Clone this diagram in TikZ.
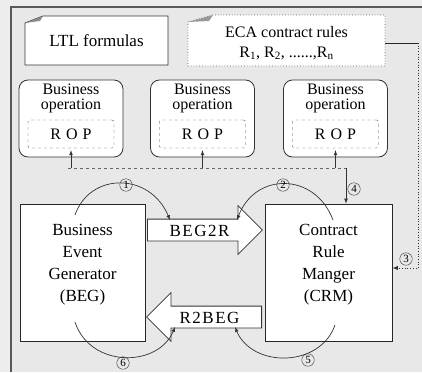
\documentclass[tikz,border=0pt]{standalone}
\usepackage{fontspec}
\setmainfont{Liberation Serif}
\usetikzlibrary{shapes.arrows}

\begin{document}
\begin{tikzpicture}[x=1pt,y=-1pt,>=latex,
  every node/.style={font=\fontsize{17}{22}\selectfont, align=center},
  frame/.style={draw=black!65, line width=1.4pt},
  note/.style={draw=black!80, fill=white, line width=0.8pt},
  opbox/.style={draw=black!80, fill=white, rounded corners=9pt, minimum width=104pt, minimum height=77pt, line width=0.8pt},
  optext/.style={font=\fontsize{16}{15}\selectfont, inner sep=0pt},
  ropbox/.style={draw=black!70, dashed, fill=white, rounded corners=2pt, minimum width=86pt, minimum height=28pt, font=\fontsize{16}{18}\selectfont},
  bigbox/.style={draw=black!85, fill=white, minimum width=125pt, minimum height=137pt, line width=0.8pt},
  blockarrow/.style={single arrow, draw=black!80, fill=white, line width=0.8pt, single arrow head extend=13.5pt, single arrow head indent=0pt, minimum height=115pt, text height=12pt, text depth=0pt, inner ysep=4.5pt, inner xsep=2pt},
  num/.style={circle, draw=black!80, inner sep=0pt, minimum size=12.5pt, font=\fontsize{11}{11}\selectfont},
  flow/.style={->, draw=black!80, line width=0.7pt},
  bus/.style={draw=black!60, dashed, line width=1pt}
]
\useasboundingbox (0,0) rectangle (422,372);
\fill[black!7] (0,0) rectangle (422,372);
\fill[black!9] (11,7) rectangle (422,372);
\draw[frame] (11,372) -- (11,7) -- (422,7);

% notes on top
\draw[note] (25,23) -- (43,16) -- (168,16) -- (168,65) -- (25,65) -- cycle;
\fill[black!45] (25,23) -- (43,16) -- (40,21) -- cycle;
\node (ltl) at (96.5,41) {LTL formulas};
\draw[note, draw=black!60, dotted] (188,22) -- (213,15) -- (385,15) -- (385,66) -- (188,66) -- cycle;
\fill[black!40] (188,22) -- (213,15) -- (209,21) -- cycle;
\node[font=\fontsize{16}{20}\selectfont] (eca) at (286.5,43) {ECA contract rules\\R\textsubscript{1}, R\textsubscript{2}, ......,R\textsubscript{n}};
\coordinate (ecaright) at (385,43);

% business operations
\foreach \i/\x in {1/71,2/202.5,3/335.5}{
  \node[opbox] (op\i) at (\x,118.5) {};
  \node[optext] (optext\i) at (\x,98) {Business\\operation};
  \node[ropbox] (rop\i) at (\x,134) {R\kern5pt O\kern5pt P};
}

% main boxes
\node[bigbox] (beg) at (82.5,272.5) {};
\node (begtext) at (82.5,265) {Business\\Event\\Generator\\(BEG)};
\node[bigbox, minimum width=127pt] (crm) at (328.5,272.5) {};
\node (crmtext) at (328.5,265) {Contract\\Rule\\Manger\\(CRM)};

\node[blockarrow, anchor=tail] (beg2r) at (147,230) {B\kern1.5pt E\kern1.5pt G\kern1.5pt 2\kern1.5pt R};
\node[blockarrow, shape border rotate=180, anchor=tail] (r2beg) at (262,317) {R\kern1.5pt 2\kern1.5pt B\kern1.5pt E\kern1.5pt G};

% bus to the rule manager
\coordinate (busleft) at (68,168);
\coordinate (busright) at (346,168);
\draw[bus] (busleft) -- (busright);
\foreach \i in {1,2,3}
  \draw[flow, shorten >=2pt] (rop\i.south |- busleft) -- (rop\i.south);
\draw[flow] (busright) -- (busright |- crm.north);

% rules to the rule manager
\coordinate (ecaturn) at (418,43);
\coordinate (crmturn) at (418,268);
\draw[draw=black!85, line width=0.8pt] (ecaright) -- (ecaturn);
\draw[flow, dotted, line width=0.9pt] (ecaturn) -- (crmturn) -- (crmturn -| crm.east);

% event flow
\coordinate (a1) at (75,215);
\coordinate (b1) at (170,220);
\coordinate (a2) at (333,220);
\coordinate (b2) at (237,220);
\coordinate (a5) at (335,325);
\coordinate (b5) at (235,327);
\coordinate (a6) at (75,322);
\coordinate (b6) at (175,327);
\draw[flow] (a1) .. controls (90,172) and (150,172) .. (b1);
\draw[flow] (a2) .. controls (315,172) and (255,172) .. (b2);
\draw[flow] (a5) .. controls (320,368) and (252,368) .. (b5);
\draw[flow] (a6) .. controls (90,368) and (158,368) .. (b6);

\node[num] (n1) at (126,185) {1};
\node[num] (n2) at (283,185) {2};
\node[num] (n3) at (406,259) {3};
\node[num] (n4) at (354,189) {4};
\node[num] (n5) at (308,360) {5};
\node[num] (n6) at (123,363) {6};
\end{tikzpicture}
\end{document}
